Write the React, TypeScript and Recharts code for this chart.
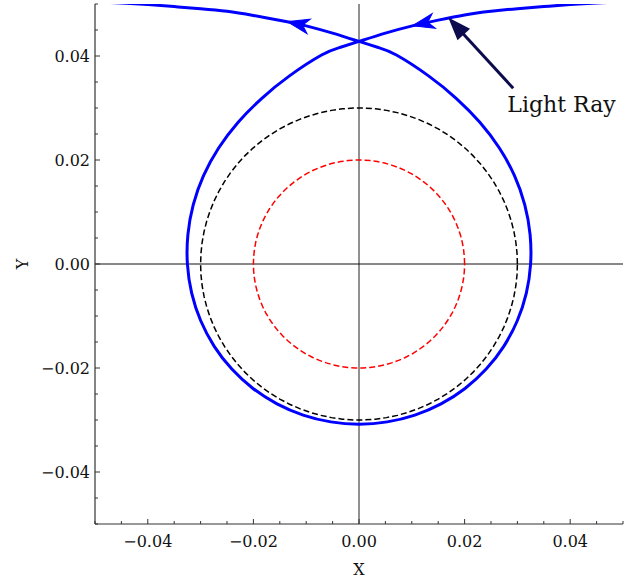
import React from 'react';
import { LineChart, Line, XAxis, YAxis, ReferenceLine, ReferenceDot } from 'recharts';

const FONT = '"DejaVu Serif", serif';

// Tick positions (major every 0.02, minor every 0.005)
const axisTicks = [
  -0.05, -0.045, -0.04, -0.035, -0.03, -0.025, -0.02, -0.015, -0.01, -0.005, 0,
  0.005, 0.01, 0.015, 0.02, 0.025, 0.03, 0.035, 0.04, 0.045, 0.05,
];

// Light ray trajectory (in travel order)
const rayX = [
  0.056, 0.05, 0.045, 0.04, 0.035, 0.03, 0.025, 0.02, 0.015, 0.0101, 0.005, 0,
  -0.003643, -0.007085, -0.013168, -0.0184, -0.022883, -0.026582, -0.029445, -0.031386, -0.0324, -0.0325,
  -0.031691, -0.029976, -0.027418, -0.024084, -0.020081, -0.01553, -0.010575, -0.005354, 0,
  0.005354, 0.010575, 0.01553, 0.020081, 0.024084, 0.027418, 0.029976, 0.031691, 0.0325,
  0.0324, 0.031386, 0.029445, 0.026582, 0.022883, 0.0184, 0.013168, 0.007085, 0.003643, 0,
  -0.005, -0.01, -0.0136, -0.02, -0.025, -0.03, -0.035, -0.04, -0.045, -0.05, -0.056,
];
const rayY = [
  0.0506, 0.0504, 0.0502, 0.0499, 0.0495, 0.0491, 0.0486, 0.0479, 0.0469, 0.0458, 0.0444, 0.0428,
  0.041641, 0.04018, 0.036178, 0.03187, 0.027271, 0.022305, 0.017, 0.011423, 0.005713, 0,
  -0.005588, -0.01091, -0.01583, -0.020209, -0.023931, -0.026899, -0.029055, -0.030362, -0.0308,
  -0.030362, -0.029055, -0.026899, -0.023931, -0.020209, -0.01583, -0.01091, -0.005588, 0,
  0.005713, 0.011423, 0.017, 0.022305, 0.027271, 0.03187, 0.036178, 0.04018, 0.041641, 0.0428,
  0.0444, 0.0458, 0.0466, 0.0478, 0.0486, 0.0491, 0.0495, 0.0499, 0.0502, 0.0504, 0.0506,
];
// x positions on the ray where direction arrows sit
const arrowTipX = [0.0101, -0.0136];

// Circle radii: photon sphere and event horizon
const photonSphereR = 0.03;
const horizonR = 0.02;

// Annotation
const annotTip = { x: 0.0169, y: 0.0474 };
const annotTail = { x: 0.0292, y: 0.0338 };
const annotTextPos = { x: 0.0281, y: 0.0292 };
const annotText = 'Light Ray';

const rayData = rayX.map((x, i) => ({ x, y: rayY[i] }));

const circleData = (r: number) => {
  const pts: { x: number; y: number }[] = [];
  for (let a = 0; a <= 360; a += 4) {
    const t = (a * Math.PI) / 180;
    pts.push({ x: r * Math.cos(t), y: r * Math.sin(t) });
  }
  return pts;
};
const photonData = circleData(photonSphereR);
const horizonData = circleData(horizonR);

const isMajor = (v: number) => Math.abs(Math.round(v * 50) - v * 50) < 1e-6;
const fmt = (v: number) => {
  const s = Math.abs(v).toFixed(2);
  return v < -1e-9 ? '\u2212' + s : s;
};

const AX = '#333';

const BottomTick = (p: any) => {
  const { x, y, payload } = p;
  const major = isMajor(payload.value);
  return (
    <g>
      <line x1={x} x2={x} y1={y} y2={y - (major ? 5 : 3)} stroke={AX} strokeWidth={1} />
      {major && (
        <text x={x} y={y + 23} textAnchor="middle" fontFamily={FONT} fontSize={16} fill="#111">
          {fmt(payload.value)}
        </text>
      )}
    </g>
  );
};
const TopTick = (p: any) => {
  const { x, y, payload } = p;
  const major = isMajor(payload.value);
  return <line x1={x} x2={x} y1={y} y2={y + (major ? 5 : 3)} stroke={AX} strokeWidth={1} />;
};
const LeftTick = (p: any) => {
  const { x, y, payload } = p;
  const major = isMajor(payload.value);
  return (
    <g>
      <line x1={x} x2={x + (major ? 5 : 3)} y1={y} y2={y} stroke={AX} strokeWidth={1} />
      {major && (
        <text x={x - 5} y={y + 6} textAnchor="end" fontFamily={FONT} fontSize={16} fill="#111">
          {fmt(payload.value)}
        </text>
      )}
    </g>
  );
};
const RightTick = (p: any) => {
  const { x, y, payload } = p;
  const major = isMajor(payload.value);
  return <line x1={x} x2={x - (major ? 5 : 3)} y1={y} y2={y} stroke={AX} strokeWidth={1} />;
};

const renderArrow = (p: any) => {
  const { cx, cy, index, payload } = p;
  if (!payload || !arrowTipX.includes(payload.x) || index < 1) return <g key={`d${index}`} />;
  const prev = rayData[index - 1];
  const dx = payload.x - prev.x;
  const dy = -(payload.y - prev.y);
  const ang = (Math.atan2(dy, dx) * 180) / Math.PI;
  const L = 22;
  const W = 7.5;
  return (
    <g key={`d${index}`} transform={`translate(${cx},${cy}) rotate(${ang})`}>
      <path d={`M0,0 L${-L},${-W} L${-0.72 * L},0 L${-L},${W} Z`} fill="#0000ff" stroke="#0000ff" strokeWidth={1} strokeLinejoin="miter" />
    </g>
  );
};

const AnnotArrow = (p: any) => {
  const { x1, y1, x2, y2 } = p;
  if ([x1, y1, x2, y2].some((v) => typeof v !== 'number')) return <g />;
  const ang = Math.atan2(y2 - y1, x2 - x1);
  const L = 23;
  const W = 8.5;
  const bx = x2 - L * Math.cos(ang);
  const by = y2 - L * Math.sin(ang);
  const nx = -Math.sin(ang);
  const ny = Math.cos(ang);
  const lx = x2 - (L - 2) * Math.cos(ang);
  const ly = y2 - (L - 2) * Math.sin(ang);
  return (
    <g>
      <line x1={x1} y1={y1} x2={lx} y2={ly} stroke="#0b0b4d" strokeWidth={3} />
      <path d={`M${x2},${y2} L${bx + nx * W},${by + ny * W} L${bx - nx * W},${by - ny * W} Z`} fill="#0b0b4d" />
    </g>
  );
};

const AnnotLabel = (p: any) => {
  const { cx, cy } = p;
  if (typeof cx !== 'number') return <g />;
  return (
    <text x={cx} y={cy} fontFamily={FONT} fontSize={22} fill="#111">
      {annotText}
    </text>
  );
};

const YTitle = (p: any) => {
  const vb = p && p.viewBox && typeof p.viewBox.x === 'number' ? p.viewBox : { x: 0, y: 4, width: 95, height: 520 };
  const x = vb.x + 22;
  const y = vb.y + vb.height / 2;
  return (
    <text x={x} y={y} transform={`rotate(-90, ${x}, ${y})`} textAnchor="middle" dominantBaseline="central" fontFamily={FONT} fontSize={16} fill="#111">
      Y
    </text>
  );
};

export default function App() {
  return (
    <div style={{ position: 'absolute', left: 0, top: 0, width: 641, height: 580, background: '#fff' }}>
      <LineChart width={641} height={580} margin={{ top: 4, right: 18, bottom: 0, left: 0 }}>
        <XAxis
          xAxisId="b"
          type="number"
          dataKey="x"
          domain={[-0.05, 0.05]}
          allowDataOverflow
          ticks={axisTicks}
          interval={0}
          tickSize={0}
          tickMargin={0}
          tickLine={false}
          tick={(p: any) => <BottomTick {...p} />}
          height={56}
          axisLine={{ stroke: AX, strokeWidth: 1.2 }}
          label={{ value: 'X', position: 'insideBottom', offset: 5, fill: '#111', fontSize: 16, fontFamily: FONT }}
        />
        <XAxis
          xAxisId="t"
          orientation="top"
          type="number"
          dataKey="x"
          domain={[-0.05, 0.05]}
          allowDataOverflow
          ticks={axisTicks}
          interval={0}
          tickSize={0}
          tickMargin={0}
          tickLine={false}
          tick={(p: any) => <TopTick {...p} />}
          height={0}
          axisLine={{ stroke: AX, strokeWidth: 1.2 }}
        />
        <YAxis
          yAxisId="l"
          type="number"
          domain={[-0.05, 0.05]}
          allowDataOverflow
          ticks={axisTicks}
          interval={0}
          tickSize={0}
          tickMargin={0}
          tickLine={false}
          tick={(p: any) => <LeftTick {...p} />}
          width={95}
          axisLine={{ stroke: AX, strokeWidth: 1.2 }}
          label={{ value: 'Y', content: (p: any) => <YTitle {...p} /> }}
        />
        <YAxis
          yAxisId="r"
          orientation="right"
          type="number"
          domain={[-0.05, 0.05]}
          allowDataOverflow
          ticks={axisTicks}
          interval={0}
          tickSize={0}
          tickMargin={0}
          tickLine={false}
          tick={(p: any) => <RightTick {...p} />}
          width={0}
          axisLine={{ stroke: AX, strokeWidth: 1.2 }}
        />
        <ReferenceLine xAxisId="b" yAxisId="l" x={0} stroke="#222" strokeWidth={1} />
        <ReferenceLine xAxisId="b" yAxisId="l" y={0} stroke="#111" strokeWidth={1} />
        <Line
          xAxisId="b"
          yAxisId="l"
          data={horizonData}
          dataKey="y"
          type="linear"
          stroke="#ff0000"
          strokeWidth={1.5}
          strokeDasharray="6 3"
          dot={false}
          activeDot={false}
          isAnimationActive={false}
        />
        <Line
          xAxisId="b"
          yAxisId="l"
          data={photonData}
          dataKey="y"
          type="linear"
          stroke="#000000"
          strokeWidth={1.5}
          strokeDasharray="6 3"
          dot={false}
          activeDot={false}
          isAnimationActive={false}
        />
        <Line
          xAxisId="b"
          yAxisId="l"
          data={rayData}
          dataKey="y"
          type="natural"
          stroke="#0000ff"
          strokeWidth={3}
          dot={renderArrow}
          activeDot={false}
          isAnimationActive={false}
        />
        <ReferenceLine
          xAxisId="b"
          yAxisId="l"
          segment={[annotTail, annotTip]}
          shape={(p: any) => <AnnotArrow {...p} />}
        />
        <ReferenceDot
          xAxisId="b"
          yAxisId="l"
          x={annotTextPos.x}
          y={annotTextPos.y}
          r={0}
          shape={(p: any) => <AnnotLabel {...p} />}
        />
      </LineChart>
    </div>
  );
}
